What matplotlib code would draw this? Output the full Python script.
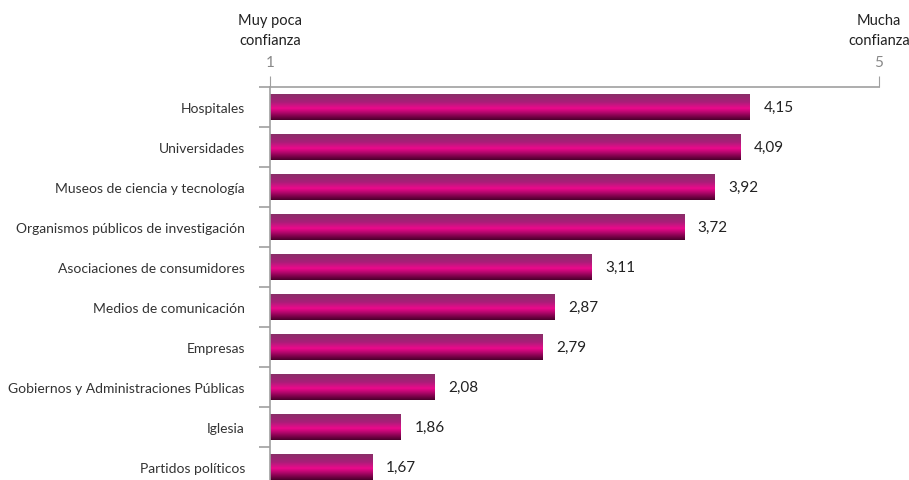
import numpy as np
import matplotlib
matplotlib.use('Agg')
import matplotlib.pyplot as plt
from matplotlib.colors import LinearSegmentedColormap

categorias = ['Hospitales', 'Universidades', 'Museos de ciencia y tecnología',
              'Organismos públicos de investigación', 'Asociaciones de consumidores',
              'Medios de comunicación', 'Empresas',
              'Gobiernos y Administraciones Públicas', 'Iglesia', 'Partidos políticos']
valores = [4.15, 4.09, 3.92, 3.72, 3.11, 2.87, 2.79, 2.08, 1.86, 1.67]
etiquetas = ['4,15', '4,09', '3,92', '3,72', '3,11', '2,87', '2,79', '2,08', '1,86', '1,67']

plt.rcParams['font.family'] = ['Lato', 'DejaVu Sans']

# vertical gradient of the bars, top to bottom
grad = LinearSegmentedColormap.from_list('barra', [
    (0.0, '#8a2e68'), (0.3, '#a81f78'), (0.55, '#ec0a8c'),
    (0.72, '#b0066a'), (1.0, '#4a002c')])
img = grad(np.linspace(0, 1, 64))[:, np.newaxis, :3]

fig = plt.figure(figsize=(9.09, 4.81), dpi=100)
ax = fig.add_axes([270 / 909, -6 / 481, 609 / 909, (481 - 88 + 6) / 481])

h = 0.65
for i, v in enumerate(valores):
    b = ax.barh(i, v - 1, left=1, height=h, color='none', edgecolor='none')[0]
    im = ax.imshow(img, extent=(1, v, i + h / 2, i - h / 2), aspect='auto',
                   origin='upper', interpolation='bilinear', zorder=2)
    im.set_clip_path(b)
    ax.text(v + 0.09, i, etiquetas[i], va='center', ha='left', fontsize=11, color='#222222')

ax.set_xlim(1, 5)
ax.set_ylim(9.475, -0.5)

gris = '#a0a0a0'
for s in ['right', 'bottom']:
    ax.spines[s].set_visible(False)
ax.spines['top'].set_color(gris)
ax.spines['left'].set_color(gris)
ax.spines['top'].set_linewidth(1.2)
ax.spines['left'].set_linewidth(1.2)

ax.xaxis.tick_top()
ax.set_xticks([1, 5])
ax.set_xticklabels(['1', '5'])
ax.tick_params(axis='x', length=8, color=gris, labelcolor='#888888', labelsize=11, pad=5)

ax.set_yticks(range(len(categorias)))
ax.set_yticklabels(categorias)
ax.tick_params(axis='y', which='major', length=0, pad=18, labelsize=10, labelcolor='#333333')
ax.set_yticks(np.arange(-0.5, 9, 1), minor=True)
ax.tick_params(axis='y', which='minor', length=8, color=gris, width=1.2)

fig.text(270 / 909, 1 - 31 / 481, 'Muy poca\nconfianza', ha='center', va='center',
         fontsize=10.5, color='#222222', linespacing=1.5)
fig.text(879 / 909, 1 - 31 / 481, 'Mucha\nconfianza', ha='center', va='center',
         fontsize=10.5, color='#222222', linespacing=1.5)

fig.savefig('out.png', dpi=100)
